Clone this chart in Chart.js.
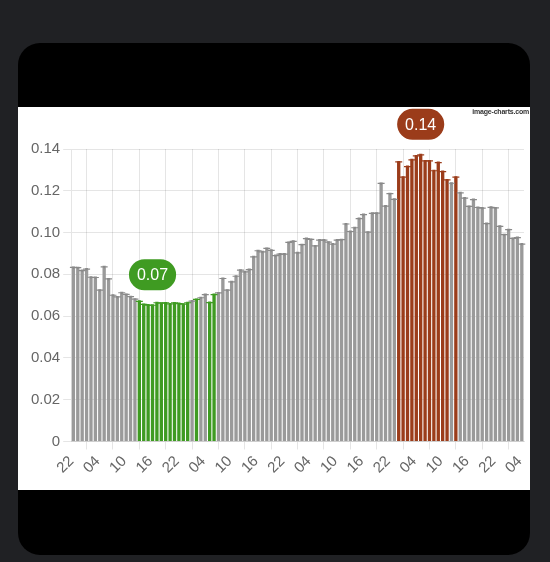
<!DOCTYPE html>
<html>
<head>
<meta charset="utf-8">
<script src="https://cdn.jsdelivr.net/npm/chart.js@4/dist/chart.umd.min.js"></script>
<style>
  html, body { margin: 0; padding: 0; background: #202124; width: 550px; height: 562px; overflow: hidden; }
  #card { position: absolute; left: 18px; top: 43px; width: 512px; height: 512px; background: #000; border-radius: 22px; overflow: hidden; }
  #plot { position: absolute; left: 0; top: 64px; width: 512px; height: 383px; background: #fff; }
  #mark { position: absolute; right: 1px; top: 1px; font: bold 7px 'Liberation Sans', Arial, sans-serif; color: #333; letter-spacing: -0.2px; }
  canvas { display: block; }
</style>
</head>
<body>
<div id="card">
  <div id="plot">
    <canvas id="chart" width="512" height="383"></canvas>
    <div id="mark">image-charts.com</div>
  </div>
</div>
<script>
// hour of each bar, starting at 22:00
const hours = [
  '22', '23',
  '00', '01', '02', '03', '04', '05', '06', '07', '08', '09', '10', '11',
  '12', '13', '14', '15', '16', '17', '18', '19', '20', '21', '22', '23',
  '00', '01', '02', '03', '04', '05', '06', '07', '08', '09', '10', '11',
  '12', '13', '14', '15', '16', '17', '18', '19', '20', '21', '22', '23',
  '00', '01', '02', '03', '04', '05', '06', '07', '08', '09', '10', '11',
  '12', '13', '14', '15', '16', '17', '18', '19', '20', '21', '22', '23',
  '00', '01', '02', '03', '04', '05', '06', '07', '08', '09', '10', '11',
  '12', '13', '14', '15', '16', '17', '18', '19', '20', '21', '22', '23',
  '00', '01', '02', '03', '04'
];

// price per hour
const prices = [
  0.0833, 0.0832, 0.0818, 0.0825, 0.0786, 0.0785, 0.0724, 0.0836, 0.0778, 0.0700,
  0.0692, 0.0712, 0.0704, 0.0693, 0.0681, 0.0671, 0.0656, 0.0653, 0.0652, 0.0664,
  0.0662, 0.0663, 0.0658, 0.0663, 0.0660, 0.0657, 0.0664, 0.0672, 0.0680, 0.0688,
  0.0703, 0.0665, 0.0703, 0.0711, 0.0780, 0.0724, 0.0764, 0.0791, 0.0820, 0.0812,
  0.0823, 0.0884, 0.0913, 0.0908, 0.0924, 0.0915, 0.0890, 0.0897, 0.0897, 0.0953,
  0.0958, 0.0903, 0.0942, 0.0971, 0.0967, 0.0936, 0.0964, 0.0964, 0.0954, 0.0945,
  0.0964, 0.0966, 0.1041, 0.1005, 0.1023, 0.1067, 0.1086, 0.1002, 0.1092, 0.1093,
  0.1235, 0.1127, 0.1186, 0.1159, 0.1338, 0.1265, 0.1316, 0.1348, 0.1367, 0.1372,
  0.1343, 0.1343, 0.1296, 0.1335, 0.1292, 0.1252, 0.1236, 0.1265, 0.1190, 0.1165,
  0.1125, 0.1158, 0.1120, 0.1117, 0.1043, 0.1121, 0.1118, 0.1030, 0.0990, 0.1014,
  0.0972, 0.0976, 0.0945
];

// bars marked as cheap / expensive hours
const cheapBars = [15, 16, 17, 18, 19, 20, 21, 22, 23, 24, 25, 26, 28, 31, 32];
const peakBars = [74, 75, 76, 77, 78, 79, 80, 81, 82, 83, 84, 85, 87];

const yTicks = [0, 0.02, 0.04, 0.06, 0.08, 0.10, 0.12, 0.14];

const GRAY = '#9a9a9a';
const GREEN = '#3f9b22';
const RED = '#9b3c1a';

const barColors = prices.map((v, i) =>
  cheapBars.includes(i) ? GREEN : peakBars.includes(i) ? RED : GRAY);
const capColors = barColors.map(c => c === GRAY ? '#8a8a8a' : c);

const minIdx = prices.indexOf(Math.min(...prices));
const maxIdx = prices.indexOf(Math.max(...prices));

// rounded labels above the cheapest and dearest hour
const bubblePlugin = {
  id: 'bubbles',
  afterDatasetsDraw(chart) {
    const meta = chart.getDatasetMeta(0);
    const ctx = chart.ctx;
    [[minIdx, GREEN], [maxIdx, RED]].forEach(([idx, color]) => {
      const el = meta.data[idx];
      const text = prices[idx].toFixed(2);
      ctx.save();
      ctx.font = "16px 'Liberation Sans', Arial, sans-serif";
      const w = ctx.measureText(text).width + 16;
      const h = 31;
      const x = el.x - w / 2;
      const y = el.y - 15 - h;
      const r = h / 2;
      ctx.beginPath();
      ctx.moveTo(x + r, y);
      ctx.lineTo(x + w - r, y);
      ctx.arc(x + w - r, y + r, r, -Math.PI / 2, Math.PI / 2);
      ctx.lineTo(x + r, y + h);
      ctx.arc(x + r, y + r, r, Math.PI / 2, Math.PI * 1.5);
      ctx.closePath();
      ctx.fillStyle = color;
      ctx.fill();
      ctx.fillStyle = '#fff';
      ctx.textAlign = 'center';
      ctx.textBaseline = 'middle';
      ctx.fillText(text, el.x, y + h / 2 + 1);
      ctx.restore();
    });
  }
};

Chart.defaults.font.family = "'Liberation Sans', Arial, sans-serif";
Chart.defaults.font.size = 15;
Chart.defaults.color = '#666';

new Chart(document.getElementById('chart'), {
  type: 'bar',
  data: {
    labels: hours,
    datasets: [
      {
        label: 'price',
        data: prices,
        backgroundColor: barColors,
        barPercentage: 0.95,
        order: 2
      },
      {
        type: 'line',
        label: 'cap',
        data: prices,
        showLine: false,
        pointStyle: 'line',
        pointRadius: 3.5,
        pointBorderWidth: 1.2,
        pointBorderColor: capColors,
        pointBackgroundColor: capColors,
        order: 1
      },
      {
        type: 'line',
        label: 'tip',
        data: prices,
        showLine: false,
        pointStyle: 'triangle',
        pointRotation: 180,
        pointRadius: 2,
        pointBorderWidth: 0,
        pointBorderColor: capColors,
        pointBackgroundColor: capColors,
        order: 0
      }
    ]
  },
  options: {
    responsive: false,
    animation: false,
    layout: { padding: { left: 10, top: 42, right: 6, bottom: 10 } },
    plugins: {
      legend: { display: false },
      tooltip: { enabled: false }
    },
    scales: {
      x: {
        grid: { offset: true, color: 'rgba(0,0,0,0.1)' },
        afterFit: function (scale) {
          scale.paddingLeft = 0;
          scale.paddingRight = 0;
        },
        ticks: {
          autoSkip: false,
          minRotation: 45,
          maxRotation: 45,
          labelOffset: -2,
          callback: function (value, index) {
            return index % 6 === 0 ? hours[index] : null;
          }
        }
      },
      y: {
        min: 0,
        max: 0.14,
        afterBuildTicks: function (scale) {
          scale.ticks = yTicks.map(v => ({ value: v }));
        },
        grid: { color: 'rgba(0,0,0,0.1)' },
        ticks: {
          callback: function (value) {
            return value === 0 ? '0' : value.toFixed(2);
          }
        }
      }
    }
  },
  plugins: [bubblePlugin]
});
</script>
</body>
</html>
